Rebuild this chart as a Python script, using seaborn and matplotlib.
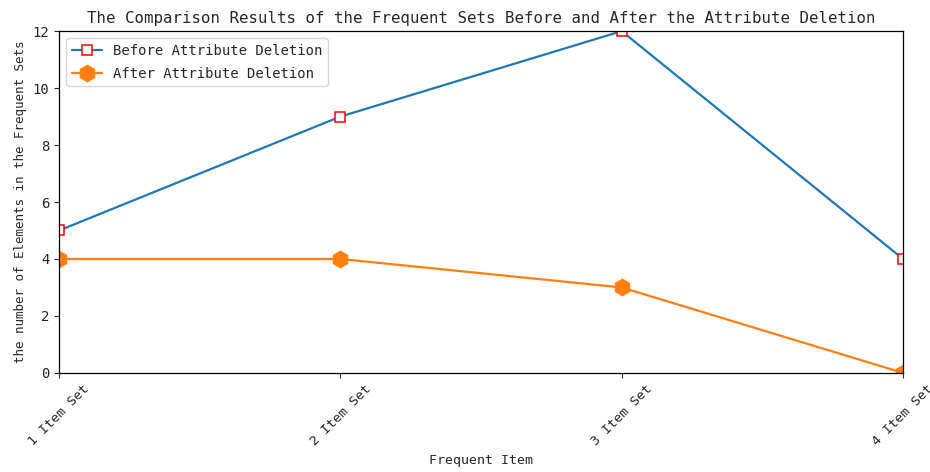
import matplotlib
matplotlib.use("Agg")
import matplotlib.pyplot as plt
import seaborn as sns
import pandas as pd

categories = ["1 Item Set", "2 Item Set", "3 Item Set", "4 Item Set"]
before_deletion = [5, 9, 12, 4]
after_deletion = [4, 4, 3, 0]

sns.set_style("ticks")
plt.rcParams["font.family"] = ["DejaVu Sans Mono", "DejaVu Sans"]

df = pd.DataFrame({
    "pos": range(len(categories)),
    "before": before_deletion,
    "after": after_deletion,
})

fig, ax = plt.subplots(figsize=(9.3, 4.72), dpi=100)
fig.subplots_adjust(left=0.0635, right=0.971, top=0.934, bottom=0.21)

sns.lineplot(data=df, x="pos", y="before", ax=ax, sort=False,
             color="#1f77b4", linewidth=1.6, marker="s", markersize=7,
             markerfacecolor="white", markeredgecolor="red",
             markeredgewidth=1.1, label="Before Attribute Deletion")
sns.lineplot(data=df, x="pos", y="after", ax=ax, sort=False,
             color="#ff7f0e", linewidth=1.6, marker="h", markersize=12,
             markeredgecolor="#ff7f0e", label="After Attribute Deletion")

ax.set_xlim(0, len(categories) - 1)
ax.set_ylim(0, 12)
ax.set_xticks(range(len(categories)))
ax.set_xticklabels(categories, rotation=45, fontsize=9.5)
ax.set_yticks(range(0, 13, 2))
ax.tick_params(axis="y", labelsize=10)
for sp in ax.spines.values():
    sp.set_visible(True)
    sp.set_color("black")
    sp.set_linewidth(0.9)

ax.set_title("The Comparison Results of the Frequent Sets Before and After the Attribute Deletion",
             fontsize=11.3)
ax.set_xlabel("Frequent Item", fontsize=9.5)
ax.set_ylabel("the number of Elements in the Frequent Sets", fontsize=9)
ax.legend(loc="upper left", fontsize=10, frameon=True, labelspacing=0.65,
          handlelength=2.2)

fig.savefig("out.png", dpi=100)
